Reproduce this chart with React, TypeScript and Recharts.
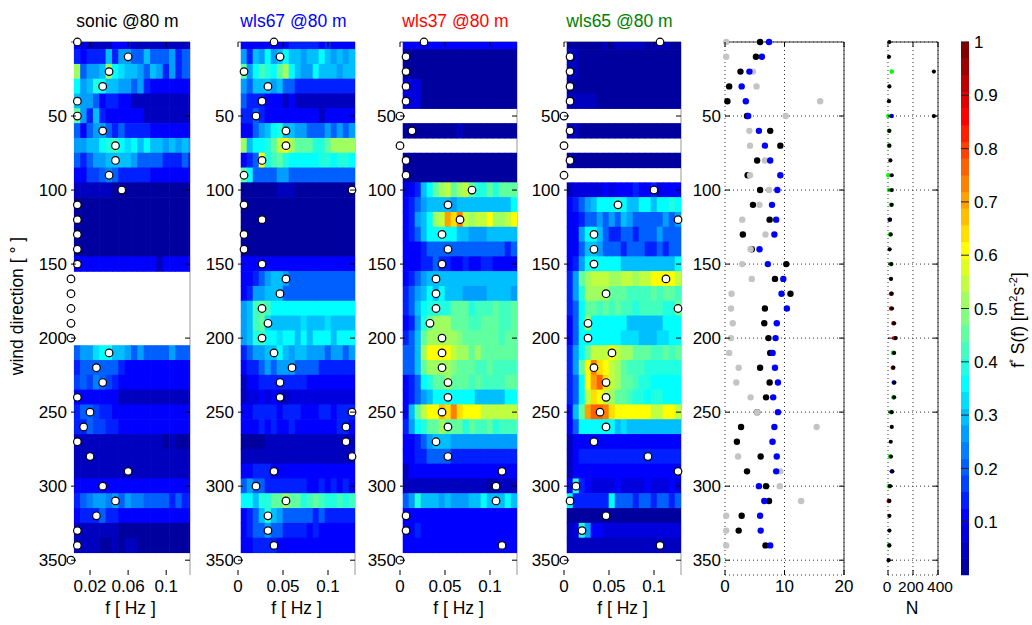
import React from 'react';
import {
  ScatterChart,
  Scatter,
  XAxis,
  YAxis,
  CartesianGrid,
  ReferenceLine
} from 'recharts';

// direction bins (deg) and spectral bin centres (Hz)
const directions = [0, 10, 20, 30, 40, 50, 60, 70, 80, 90, 100, 110, 120, 130, 140, 150, 160, 170,
  180, 190, 200, 210, 220, 230, 240, 250, 260, 270, 280, 290, 300, 310, 320, 330, 340, 350];
const freqBins = [0.0067, 0.0133, 0.02, 0.0267, 0.0333, 0.04, 0.0467, 0.0533, 0.06, 0.0667,
  0.0733, 0.08, 0.0867, 0.0933, 0.1, 0.1067, 0.1133, 0.12, 0.1267];
const BIN_HZ = 1 / 150;
const BIN_DEG = 10;
const dirTicks = [50, 100, 150, 200, 250, 300, 350];

// f*S(f) per direction bin (rows 0..340 deg), null = no data
const sonicSpec: (number[] | null)[] = [
  [0.1, 0.08, 0.05, 0.05, 0.05, 0.05, 0.1, 0.1, 0.1, 0.05, 0.05, 0.05, 0.05, 0.05, 0.05, 0.05, 0.05, 0.05, 0.05],
  [0.15, 0.1, 0.15, 0.15, 0.15, 0.3, 0.15, 0.25, 0.25, 0.2, 0.2, 0.3, 0.2, 0.2, 0.2, 0.25, 0.15, 0.2, 0.2],
  [0.5, 0.2, 0.25, 0.25, 0.3, 0.5, 0.37, 0.33, 0.3, 0.3, 0.25, 0.2, 0.3, 0.25, 0.15, 0.25, 0.15, 0.2, 0.2],
  [0.35, 0.25, 0.3, 0.38, 0.35, 0.3, 0.3, 0.25, 0.25, 0.2, 0.25, 0.15, 0.12, 0.12, 0.12, 0.12, 0.12, 0.12, 0.12],
  [0.3, 0.25, 0.25, 0.2, 0.12, 0.15, 0.15, 0.1, 0.12, 0.05, 0.05, 0.05, 0.05, 0.05, 0.05, 0.05, 0.05, 0.05, 0.05],
  [0.45, 0.25, 0.15, 0.3, 0.15, 0.12, 0.12, 0.1, 0.1, 0.1, 0.1, 0.05, 0.05, 0.05, 0.05, 0.05, 0.05, 0.05, 0.05],
  [0.2, 0.12, 0.2, 0.25, 0.25, 0.2, 0.15, 0.2, 0.15, 0.15, 0.15, 0.15, 0.12, 0.12, 0.12, 0.12, 0.12, 0.12, 0.12],
  [0.25, 0.25, 0.3, 0.3, 0.37, 0.38, 0.42, 0.37, 0.33, 0.35, 0.3, 0.35, 0.3, 0.3, 0.25, 0.3, 0.25, 0.3, 0.25],
  [0.2, 0.15, 0.2, 0.25, 0.28, 0.3, 0.3, 0.3, 0.3, 0.25, 0.2, 0.2, 0.2, 0.2, 0.15, 0.15, 0.15, 0.2, 0.15],
  [0.12, 0.12, 0.17, 0.17, 0.2, 0.22, 0.2, 0.15, 0.15, 0.15, 0.15, 0.15, 0.12, 0.1, 0.12, 0.12, 0.12, 0.12, 0.12],
  [0.06, 0.06, 0.06, 0.06, 0.06, 0.06, 0.02, 0.02, 0.02, 0.02, 0.02, 0.02, 0.02, 0.02, 0.02, 0.02, 0.02, 0.02, 0.02],
  [0.02, 0.02, 0.02, 0.02, 0.02, 0.02, 0.02, 0.02, 0.02, 0.02, 0.02, 0.02, 0.02, 0.02, 0.02, 0.02, 0.02, 0.02, 0.02],
  [0.02, 0.02, 0.02, 0.02, 0.02, 0.02, 0.02, 0.02, 0.02, 0.02, 0.02, 0.02, 0.02, 0.02, 0.02, 0.02, 0.02, 0.02, 0.02],
  [0.02, 0.02, 0.02, 0.02, 0.02, 0.02, 0.02, 0.02, 0.02, 0.02, 0.02, 0.02, 0.02, 0.02, 0.02, 0.02, 0.02, 0.02, 0.02],
  [0.02, 0.02, 0.02, 0.02, 0.02, 0.02, 0.02, 0.02, 0.02, 0.02, 0.02, 0.02, 0.02, 0.02, 0.02, 0.02, 0.02, 0.02, 0.02],
  [0.12, 0.12, 0.1, 0.1, 0.1, 0.1, 0.1, 0.1, 0.1, 0.1, 0.1, 0.1, 0.1, 0.06, 0.1, 0.1, 0.1, 0.1, 0.1],
  null,
  null,
  null,
  null,
  null,
  [0.2, 0.25, 0.28, 0.33, 0.35, 0.35, 0.3, 0.3, 0.25, 0.2, 0.25, 0.2, 0.2, 0.2, 0.2, 0.25, 0.2, 0.2, 0.2],
  [0.15, 0.2, 0.2, 0.2, 0.2, 0.2, 0.2, 0.15, 0.12, 0.12, 0.12, 0.12, 0.12, 0.12, 0.12, 0.12, 0.12, 0.12, 0.12],
  [0.18, 0.2, 0.18, 0.22, 0.2, 0.18, 0.15, 0.12, 0.12, 0.12, 0.12, 0.12, 0.12, 0.12, 0.12, 0.12, 0.12, 0.12, 0.12],
  [0.12, 0.12, 0.12, 0.12, 0.12, 0.12, 0.12, 0.06, 0.06, 0.06, 0.06, 0.06, 0.06, 0.06, 0.06, 0.06, 0.06, 0.06, 0.06],
  [0.15, 0.2, 0.2, 0.18, 0.15, 0.15, 0.12, 0.12, 0.12, 0.12, 0.12, 0.12, 0.12, 0.12, 0.1, 0.1, 0.1, 0.1, 0.1],
  [0.15, 0.15, 0.2, 0.18, 0.18, 0.15, 0.15, 0.12, 0.12, 0.12, 0.12, 0.12, 0.12, 0.12, 0.12, 0.12, 0.12, 0.12, 0.12],
  [0.05, 0.05, 0.05, 0.05, 0.05, 0.05, 0.05, 0.05, 0.05, 0.05, 0.05, 0.05, 0.05, 0.05, 0.02, 0.05, 0.02, 0.02, 0.02],
  [0.05, 0.05, 0.05, 0.05, 0.05, 0.05, 0.05, 0.05, 0.05, 0.05, 0.05, 0.05, 0.05, 0.05, 0.05, 0.05, 0.05, 0.05, 0.05],
  [0.05, 0.05, 0.05, 0.05, 0.05, 0.05, 0.05, 0.05, 0.05, 0.05, 0.05, 0.05, 0.05, 0.05, 0.05, 0.05, 0.05, 0.05, 0.05],
  [0.1, 0.12, 0.12, 0.12, 0.12, 0.12, 0.12, 0.12, 0.12, 0.12, 0.12, 0.12, 0.12, 0.1, 0.1, 0.1, 0.1, 0.1, 0.1],
  [0.15, 0.2, 0.22, 0.25, 0.25, 0.22, 0.25, 0.2, 0.25, 0.22, 0.22, 0.2, 0.2, 0.2, 0.2, 0.15, 0.2, 0.15, 0.15],
  [0.12, 0.15, 0.15, 0.15, 0.2, 0.15, 0.15, 0.12, 0.12, 0.12, 0.12, 0.12, 0.12, 0.1, 0.1, 0.1, 0.1, 0.1, 0.1],
  [0.06, 0.06, 0.06, 0.06, 0.06, 0.06, 0.06, 0.02, 0.02, 0.02, 0.02, 0.02, 0.02, 0.02, 0.02, 0.02, 0.02, 0.02, 0.02],
  [0.06, 0.06, 0.06, 0.06, 0.02, 0.02, 0.06, 0.02, 0.06, 0.06, 0.02, 0.02, 0.02, 0.02, 0.02, 0.02, 0.02, 0.02, 0.02]
];

const wls67Spec: (number[] | null)[] = [
  [0.12, 0.1, 0.12, 0.12, 0.12, 0.12, 0.12, 0.12, 0.15, 0.15, 0.15, 0.15, 0.15, 0.12, 0.15, 0.12, 0.12, 0.12, 0.12],
  [0.25, 0.15, 0.3, 0.25, 0.35, 0.25, 0.3, 0.35, 0.3, 0.3, 0.25, 0.3, 0.3, 0.35, 0.3, 0.25, 0.3, 0.25, 0.3],
  [0.45, 0.25, 0.35, 0.42, 0.4, 0.35, 0.45, 0.5, 0.35, 0.3, 0.28, 0.25, 0.35, 0.3, 0.3, 0.3, 0.25, 0.3, 0.3],
  [0.25, 0.2, 0.3, 0.3, 0.3, 0.25, 0.3, 0.2, 0.2, 0.15, 0.15, 0.15, 0.15, 0.15, 0.15, 0.15, 0.15, 0.15, 0.15],
  [0.2, 0.15, 0.15, 0.15, 0.1, 0.1, 0.1, 0.06, 0.1, 0.06, 0.06, 0.06, 0.06, 0.06, 0.06, 0.06, 0.06, 0.06, 0.06],
  [0.15, 0.15, 0.2, 0.15, 0.12, 0.1, 0.1, 0.1, 0.1, 0.1, 0.1, 0.1, 0.1, 0.06, 0.1, 0.1, 0.1, 0.1, 0.1],
  [0.12, 0.12, 0.2, 0.25, 0.3, 0.35, 0.38, 0.3, 0.3, 0.25, 0.25, 0.2, 0.2, 0.2, 0.25, 0.2, 0.25, 0.2, 0.25],
  [0.5, 0.3, 0.35, 0.35, 0.4, 0.45, 0.55, 0.62, 0.5, 0.45, 0.45, 0.45, 0.4, 0.4, 0.45, 0.5, 0.5, 0.5, 0.5],
  [0.12, 0.15, 0.2, 0.6, 0.4, 0.42, 0.45, 0.4, 0.37, 0.37, 0.37, 0.37, 0.37, 0.4, 0.4, 0.37, 0.4, 0.4, 0.37],
  [0.45, 0.35, 0.2, 0.2, 0.2, 0.2, 0.25, 0.25, 0.2, 0.2, 0.2, 0.2, 0.2, 0.2, 0.2, 0.2, 0.2, 0.2, 0.2],
  [0.02, 0.02, 0.02, 0.02, 0.02, 0.02, 0.06, 0.06, 0.06, 0.02, 0.02, 0.02, 0.02, 0.02, 0.02, 0.02, 0.02, 0.02, 0.02],
  [0.02, 0.02, 0.02, 0.02, 0.02, 0.02, 0.02, 0.02, 0.02, 0.02, 0.02, 0.02, 0.02, 0.02, 0.02, 0.02, 0.02, 0.02, 0.02],
  [0.02, 0.02, 0.02, 0.02, 0.02, 0.02, 0.02, 0.02, 0.02, 0.02, 0.02, 0.02, 0.02, 0.02, 0.02, 0.02, 0.02, 0.02, 0.02],
  [0.02, 0.02, 0.02, 0.02, 0.02, 0.02, 0.02, 0.02, 0.02, 0.02, 0.02, 0.02, 0.02, 0.02, 0.02, 0.02, 0.02, 0.02, 0.02],
  [0.02, 0.02, 0.02, 0.02, 0.02, 0.02, 0.02, 0.02, 0.02, 0.02, 0.02, 0.02, 0.02, 0.02, 0.02, 0.02, 0.02, 0.02, 0.02],
  [0.12, 0.1, 0.12, 0.12, 0.12, 0.12, 0.12, 0.1, 0.1, 0.1, 0.1, 0.1, 0.1, 0.1, 0.1, 0.1, 0.1, 0.1, 0.12],
  [0.1, 0.12, 0.15, 0.2, 0.25, 0.3, 0.3, 0.25, 0.2, 0.2, 0.2, 0.2, 0.2, 0.2, 0.2, 0.2, 0.2, 0.2, 0.2],
  [0.12, 0.15, 0.25, 0.25, 0.3, 0.3, 0.3, 0.2, 0.2, 0.2, 0.2, 0.2, 0.2, 0.2, 0.2, 0.2, 0.2, 0.2, 0.2],
  [0.25, 0.3, 0.42, 0.45, 0.42, 0.37, 0.37, 0.37, 0.37, 0.37, 0.37, 0.37, 0.37, 0.37, 0.37, 0.37, 0.37, 0.37, 0.37],
  [0.25, 0.3, 0.42, 0.45, 0.33, 0.3, 0.3, 0.3, 0.3, 0.3, 0.33, 0.3, 0.3, 0.3, 0.33, 0.3, 0.3, 0.3, 0.3],
  [0.25, 0.3, 0.4, 0.42, 0.35, 0.37, 0.33, 0.35, 0.35, 0.3, 0.35, 0.3, 0.35, 0.35, 0.35, 0.3, 0.35, 0.35, 0.35],
  [0.15, 0.2, 0.25, 0.25, 0.3, 0.3, 0.35, 0.3, 0.25, 0.3, 0.3, 0.25, 0.25, 0.25, 0.2, 0.25, 0.25, 0.2, 0.25],
  [0.1, 0.15, 0.15, 0.2, 0.25, 0.2, 0.25, 0.25, 0.25, 0.2, 0.2, 0.2, 0.2, 0.15, 0.15, 0.15, 0.15, 0.15, 0.15],
  [0.06, 0.1, 0.12, 0.15, 0.15, 0.15, 0.15, 0.15, 0.15, 0.15, 0.15, 0.12, 0.12, 0.12, 0.12, 0.12, 0.12, 0.12, 0.12],
  [0.06, 0.08, 0.08, 0.1, 0.08, 0.1, 0.08, 0.06, 0.08, 0.08, 0.08, 0.08, 0.08, 0.08, 0.08, 0.08, 0.08, 0.08, 0.08],
  [0.1, 0.12, 0.15, 0.15, 0.15, 0.15, 0.12, 0.15, 0.15, 0.15, 0.12, 0.12, 0.12, 0.15, 0.15, 0.12, 0.15, 0.15, 0.15],
  [0.1, 0.12, 0.12, 0.15, 0.12, 0.15, 0.12, 0.12, 0.15, 0.12, 0.12, 0.12, 0.12, 0.12, 0.12, 0.12, 0.15, 0.15, 0.12],
  [0.02, 0.02, 0.02, 0.02, 0.05, 0.05, 0.05, 0.05, 0.05, 0.05, 0.05, 0.05, 0.05, 0.05, 0.05, 0.05, 0.05, 0.05, 0.05],
  [0.06, 0.06, 0.06, 0.06, 0.06, 0.06, 0.06, 0.06, 0.06, 0.06, 0.06, 0.06, 0.06, 0.06, 0.06, 0.06, 0.06, 0.06, 0.06],
  [0.12, 0.12, 0.15, 0.15, 0.15, 0.12, 0.12, 0.12, 0.12, 0.12, 0.12, 0.12, 0.12, 0.12, 0.12, 0.12, 0.12, 0.12, 0.12],
  [0.2, 0.25, 0.2, 0.2, 0.15, 0.15, 0.15, 0.15, 0.15, 0.15, 0.15, 0.12, 0.12, 0.15, 0.12, 0.15, 0.12, 0.15, 0.12],
  [0.35, 0.37, 0.3, 0.4, 0.4, 0.45, 0.45, 0.5, 0.45, 0.45, 0.4, 0.42, 0.45, 0.42, 0.4, 0.4, 0.42, 0.4, 0.42],
  [0.12, 0.15, 0.2, 0.3, 0.4, 0.3, 0.25, 0.2, 0.2, 0.2, 0.2, 0.2, 0.15, 0.2, 0.15, 0.15, 0.15, 0.15, 0.15],
  [0.12, 0.15, 0.2, 0.2, 0.25, 0.2, 0.2, 0.15, 0.15, 0.15, 0.15, 0.12, 0.15, 0.12, 0.12, 0.12, 0.12, 0.12, 0.12],
  [0.12, 0.12, 0.15, 0.15, 0.15, 0.15, 0.12, 0.12, 0.12, 0.12, 0.12, 0.12, 0.12, 0.12, 0.12, 0.12, 0.12, 0.12, 0.12]
];

const wls37Spec: (number[] | null)[] = [
  [0.12, 0.12, 0.12, 0.12, 0.12, 0.12, 0.12, 0.12, 0.12, 0.1, 0.12, 0.12, 0.12, 0.12, 0.12, 0.12, 0.12, 0.12, 0.12],
  [0.02, 0.02, 0.02, 0.02, 0.02, 0.02, 0.02, 0.02, 0.02, 0.02, 0.02, 0.02, 0.02, 0.02, 0.02, 0.02, 0.02, 0.02, 0.02],
  [0.02, 0.02, 0.02, 0.02, 0.02, 0.02, 0.02, 0.02, 0.02, 0.02, 0.02, 0.02, 0.02, 0.02, 0.02, 0.02, 0.02, 0.02, 0.02],
  [0.08, 0.08, 0.08, 0.02, 0.02, 0.02, 0.02, 0.02, 0.02, 0.02, 0.02, 0.02, 0.02, 0.02, 0.02, 0.02, 0.02, 0.02, 0.02],
  [0.08, 0.08, 0.08, 0.02, 0.02, 0.02, 0.02, 0.02, 0.02, 0.02, 0.02, 0.02, 0.02, 0.02, 0.02, 0.02, 0.02, 0.02, 0.02],
  null,
  [0.02, 0.02, 0.02, 0.02, 0.02, 0.02, 0.02, 0.02, 0.02, 0.05, 0.02, 0.02, 0.02, 0.02, 0.02, 0.02, 0.02, 0.02, 0.02],
  null,
  [0.02, 0.02, 0.02, 0.02, 0.02, 0.02, 0.02, 0.02, 0.02, 0.02, 0.02, 0.02, 0.02, 0.02, 0.02, 0.02, 0.02, 0.02, 0.02],
  [0.02, 0.02, 0.02, 0.02, 0.02, 0.02, 0.02, 0.02, 0.02, 0.02, 0.02, 0.02, 0.02, 0.02, 0.02, 0.02, 0.02, 0.02, 0.02],
  [0.08, 0.1, 0.15, 0.3, 0.35, 0.45, 0.5, 0.55, 0.45, 0.5, 0.55, 0.45, 0.4, 0.4, 0.45, 0.4, 0.45, 0.45, 0.45],
  [0.1, 0.15, 0.2, 0.25, 0.3, 0.3, 0.3, 0.3, 0.28, 0.3, 0.3, 0.3, 0.3, 0.3, 0.3, 0.3, 0.3, 0.3, 0.35],
  [0.1, 0.15, 0.25, 0.3, 0.35, 0.5, 0.55, 0.7, 0.65, 0.72, 0.55, 0.5, 0.55, 0.55, 0.6, 0.5, 0.5, 0.55, 0.6],
  [0.12, 0.15, 0.2, 0.3, 0.35, 0.37, 0.4, 0.35, 0.35, 0.3, 0.3, 0.28, 0.28, 0.28, 0.3, 0.3, 0.3, 0.3, 0.3],
  [0.1, 0.1, 0.12, 0.15, 0.2, 0.2, 0.2, 0.2, 0.2, 0.2, 0.2, 0.2, 0.2, 0.2, 0.2, 0.2, 0.2, 0.15, 0.2],
  [0.1, 0.1, 0.12, 0.15, 0.15, 0.2, 0.15, 0.15, 0.12, 0.12, 0.15, 0.12, 0.12, 0.15, 0.15, 0.12, 0.12, 0.1, 0.1],
  [0.1, 0.15, 0.2, 0.25, 0.3, 0.3, 0.3, 0.3, 0.3, 0.3, 0.3, 0.3, 0.3, 0.3, 0.3, 0.3, 0.3, 0.3, 0.3],
  [0.15, 0.2, 0.25, 0.3, 0.35, 0.3, 0.35, 0.3, 0.3, 0.3, 0.28, 0.28, 0.28, 0.28, 0.3, 0.3, 0.3, 0.3, 0.28],
  [0.15, 0.2, 0.3, 0.35, 0.4, 0.4, 0.4, 0.4, 0.45, 0.45, 0.45, 0.4, 0.42, 0.42, 0.42, 0.45, 0.42, 0.42, 0.45],
  [0.12, 0.15, 0.25, 0.4, 0.45, 0.5, 0.5, 0.5, 0.45, 0.45, 0.45, 0.42, 0.42, 0.45, 0.45, 0.45, 0.42, 0.42, 0.45],
  [0.15, 0.2, 0.3, 0.45, 0.5, 0.5, 0.52, 0.5, 0.5, 0.48, 0.45, 0.45, 0.45, 0.45, 0.45, 0.45, 0.42, 0.45, 0.45],
  [0.2, 0.2, 0.3, 0.5, 0.6, 0.62, 0.62, 0.6, 0.55, 0.5, 0.5, 0.45, 0.5, 0.45, 0.45, 0.45, 0.45, 0.45, 0.45],
  [0.2, 0.2, 0.3, 0.45, 0.5, 0.52, 0.52, 0.5, 0.48, 0.45, 0.45, 0.45, 0.42, 0.42, 0.45, 0.42, 0.42, 0.42, 0.42],
  [0.12, 0.15, 0.2, 0.35, 0.4, 0.45, 0.45, 0.5, 0.45, 0.45, 0.45, 0.42, 0.45, 0.42, 0.42, 0.42, 0.42, 0.45, 0.45],
  [0.12, 0.15, 0.2, 0.25, 0.3, 0.35, 0.37, 0.37, 0.35, 0.37, 0.35, 0.35, 0.3, 0.3, 0.3, 0.3, 0.3, 0.35, 0.35],
  [0.12, 0.3, 0.45, 0.55, 0.6, 0.6, 0.68, 0.65, 0.72, 0.65, 0.62, 0.6, 0.6, 0.55, 0.55, 0.55, 0.55, 0.55, 0.55],
  [0.15, 0.25, 0.35, 0.4, 0.45, 0.45, 0.5, 0.45, 0.45, 0.45, 0.4, 0.45, 0.42, 0.42, 0.45, 0.4, 0.42, 0.42, 0.42],
  [0.1, 0.12, 0.15, 0.2, 0.25, 0.3, 0.3, 0.3, 0.25, 0.25, 0.25, 0.25, 0.25, 0.25, 0.25, 0.25, 0.25, 0.25, 0.25],
  [0.1, 0.12, 0.15, 0.15, 0.2, 0.2, 0.2, 0.2, 0.15, 0.15, 0.15, 0.15, 0.15, 0.15, 0.15, 0.15, 0.15, 0.15, 0.15],
  [0.06, 0.1, 0.1, 0.1, 0.1, 0.1, 0.1, 0.1, 0.12, 0.1, 0.1, 0.1, 0.1, 0.1, 0.1, 0.1, 0.1, 0.1, 0.1],
  [0.05, 0.05, 0.06, 0.05, 0.05, 0.05, 0.05, 0.05, 0.05, 0.05, 0.05, 0.05, 0.05, 0.05, 0.02, 0.05, 0.05, 0.05, 0.05],
  [0.2, 0.25, 0.4, 0.3, 0.3, 0.3, 0.28, 0.3, 0.25, 0.28, 0.25, 0.3, 0.3, 0.35, 0.3, 0.3, 0.3, 0.35, 0.3],
  [0.1, 0.12, 0.12, 0.12, 0.12, 0.12, 0.12, 0.12, 0.12, 0.12, 0.12, 0.12, 0.12, 0.12, 0.12, 0.12, 0.12, 0.12, 0.12],
  [0.12, 0.12, 0.15, 0.12, 0.1, 0.1, 0.1, 0.1, 0.1, 0.1, 0.1, 0.1, 0.1, 0.1, 0.1, 0.1, 0.1, 0.1, 0.1],
  [0.12, 0.12, 0.12, 0.12, 0.12, 0.12, 0.12, 0.12, 0.12, 0.12, 0.12, 0.12, 0.12, 0.12, 0.12, 0.12, 0.12, 0.12, 0.12]
];

const wls65Spec: (number[] | null)[] = [
  [0.02, 0.02, 0.02, 0.02, 0.02, 0.02, 0.06, 0.02, 0.06, 0.06, 0.06, 0.06, 0.06, 0.02, 0.06, 0.06, 0.06, 0.02, 0.02],
  [0.05, 0.05, 0.02, 0.02, 0.02, 0.02, 0.02, 0.02, 0.02, 0.02, 0.02, 0.02, 0.02, 0.02, 0.02, 0.02, 0.02, 0.02, 0.02],
  [0.05, 0.05, 0.02, 0.02, 0.02, 0.02, 0.02, 0.02, 0.02, 0.02, 0.02, 0.02, 0.02, 0.02, 0.02, 0.02, 0.02, 0.02, 0.02],
  [0.02, 0.02, 0.02, 0.02, 0.02, 0.02, 0.02, 0.02, 0.02, 0.02, 0.02, 0.02, 0.02, 0.02, 0.02, 0.02, 0.02, 0.02, 0.02],
  [0.06, 0.06, 0.06, 0.06, 0.06, 0.02, 0.02, 0.02, 0.02, 0.02, 0.02, 0.02, 0.02, 0.02, 0.02, 0.02, 0.02, 0.02, 0.02],
  null,
  [0.05, 0.05, 0.02, 0.02, 0.02, 0.02, 0.02, 0.02, 0.02, 0.02, 0.02, 0.02, 0.02, 0.02, 0.02, 0.02, 0.02, 0.02, 0.02],
  null,
  [0.02, 0.02, 0.02, 0.02, 0.02, 0.02, 0.02, 0.02, 0.02, 0.02, 0.02, 0.02, 0.02, 0.02, 0.02, 0.02, 0.02, 0.02, 0.02],
  null,
  [0.05, 0.08, 0.08, 0.08, 0.08, 0.08, 0.1, 0.08, 0.12, 0.12, 0.12, 0.15, 0.12, 0.12, 0.15, 0.08, 0.12, 0.12, 0.12],
  [0.1, 0.15, 0.2, 0.25, 0.3, 0.35, 0.35, 0.35, 0.4, 0.35, 0.3, 0.3, 0.35, 0.35, 0.3, 0.35, 0.37, 0.38, 0.35],
  [0.12, 0.12, 0.15, 0.2, 0.2, 0.25, 0.2, 0.25, 0.2, 0.3, 0.25, 0.2, 0.2, 0.2, 0.2, 0.2, 0.25, 0.2, 0.25],
  [0.1, 0.12, 0.25, 0.35, 0.35, 0.3, 0.2, 0.15, 0.15, 0.2, 0.2, 0.15, 0.2, 0.2, 0.2, 0.25, 0.2, 0.2, 0.2],
  [0.1, 0.12, 0.2, 0.3, 0.3, 0.25, 0.2, 0.2, 0.2, 0.15, 0.2, 0.2, 0.2, 0.15, 0.15, 0.2, 0.15, 0.2, 0.2],
  [0.12, 0.15, 0.25, 0.35, 0.35, 0.35, 0.35, 0.37, 0.35, 0.3, 0.3, 0.3, 0.3, 0.3, 0.3, 0.3, 0.3, 0.3, 0.35],
  [0.15, 0.25, 0.45, 0.5, 0.55, 0.55, 0.55, 0.52, 0.52, 0.55, 0.55, 0.52, 0.55, 0.55, 0.6, 0.62, 0.62, 0.6, 0.55],
  [0.15, 0.25, 0.4, 0.5, 0.5, 0.52, 0.5, 0.45, 0.45, 0.45, 0.42, 0.42, 0.42, 0.42, 0.45, 0.42, 0.45, 0.45, 0.42],
  [0.15, 0.2, 0.35, 0.45, 0.45, 0.42, 0.45, 0.42, 0.45, 0.42, 0.42, 0.4, 0.42, 0.42, 0.42, 0.42, 0.4, 0.4, 0.45],
  [0.12, 0.2, 0.35, 0.5, 0.37, 0.35, 0.35, 0.35, 0.35, 0.35, 0.3, 0.3, 0.3, 0.3, 0.3, 0.3, 0.35, 0.35, 0.35],
  [0.12, 0.2, 0.35, 0.37, 0.37, 0.37, 0.35, 0.37, 0.37, 0.33, 0.33, 0.33, 0.3, 0.3, 0.3, 0.33, 0.33, 0.35, 0.35],
  [0.15, 0.25, 0.37, 0.45, 0.55, 0.55, 0.55, 0.62, 0.55, 0.5, 0.5, 0.45, 0.45, 0.45, 0.42, 0.42, 0.45, 0.42, 0.45],
  [0.15, 0.25, 0.45, 0.62, 0.72, 0.65, 0.6, 0.55, 0.5, 0.45, 0.42, 0.42, 0.42, 0.4, 0.4, 0.4, 0.4, 0.4, 0.4],
  [0.15, 0.2, 0.37, 0.62, 0.7, 0.78, 0.65, 0.55, 0.5, 0.45, 0.45, 0.42, 0.4, 0.4, 0.37, 0.37, 0.37, 0.37, 0.37],
  [0.15, 0.2, 0.37, 0.55, 0.65, 0.62, 0.55, 0.5, 0.45, 0.45, 0.42, 0.4, 0.4, 0.37, 0.4, 0.4, 0.37, 0.37, 0.37],
  [0.12, 0.3, 0.45, 0.7, 0.78, 0.75, 0.72, 0.65, 0.62, 0.62, 0.62, 0.6, 0.62, 0.6, 0.55, 0.55, 0.6, 0.6, 0.55],
  [0.12, 0.2, 0.35, 0.37, 0.37, 0.37, 0.35, 0.35, 0.3, 0.33, 0.3, 0.3, 0.3, 0.3, 0.3, 0.3, 0.3, 0.3, 0.3],
  [0.05, 0.1, 0.12, 0.12, 0.12, 0.12, 0.12, 0.12, 0.12, 0.12, 0.12, 0.12, 0.12, 0.12, 0.12, 0.12, 0.12, 0.1, 0.12],
  [0.06, 0.1, 0.15, 0.15, 0.15, 0.15, 0.15, 0.15, 0.15, 0.15, 0.15, 0.15, 0.15, 0.15, 0.15, 0.15, 0.15, 0.15, 0.15],
  [0.06, 0.1, 0.1, 0.1, 0.1, 0.1, 0.1, 0.1, 0.1, 0.1, 0.1, 0.1, 0.1, 0.1, 0.1, 0.1, 0.1, 0.1, 0.1],
  [0.1, 0.38, 0.15, 0.1, 0.08, 0.08, 0.08, 0.08, 0.1, 0.08, 0.08, 0.08, 0.08, 0.1, 0.08, 0.08, 0.08, 0.1, 0.08],
  [0.35, 0.15, 0.15, 0.15, 0.15, 0.15, 0.15, 0.35, 0.2, 0.2, 0.2, 0.15, 0.2, 0.2, 0.15, 0.2, 0.2, 0.15, 0.2],
  [0.02, 0.02, 0.02, 0.02, 0.02, 0.02, 0.02, 0.02, 0.02, 0.02, 0.02, 0.02, 0.02, 0.02, 0.02, 0.02, 0.02, 0.02, 0.02],
  [0.05, 0.08, 0.4, 0.25, 0.1, 0.1, 0.08, 0.08, 0.08, 0.08, 0.08, 0.08, 0.08, 0.08, 0.08, 0.08, 0.08, 0.08, 0.08],
  [0.06, 0.06, 0.06, 0.06, 0.06, 0.06, 0.06, 0.06, 0.06, 0.06, 0.06, 0.06, 0.06, 0.06, 0.06, 0.06, 0.06, 0.06, 0.06]
];

// spectral peak frequency (Hz) per direction, 0..350 deg
const sonicPeak = [0.0067, 0.06, 0.04, 0.0333, 0.0067, 0.0067, 0.0333, 0.0467, 0.0467, 0.04, 0.0533, 0.0067,
  0.0067, 0.0067, 0.0067, 0.0067, 0, 0, 0, 0, 0, 0.04, 0.0267, 0.0333, 0.0067, 0.02, 0.0133, 0.0067,
  0.02, 0.06, 0.0333, 0.0467, 0.0267, 0.0067, 0.0067, 0];
const wls67Peak = [0.04, 0.0467, 0.0067, 0.0333, 0.0267, 0.02, 0.0533, 0.0533, 0.0267, 0.0067, 0.1267, 0.0067,
  0.0267, 0.0067, 0.0067, 0.0267, 0.0533, 0.0467, 0.0267, 0.0333, 0.0267, 0.04, 0.06, 0.0467, 0.0467,
  0.1267, 0.12, 0.12, 0.1267, 0.04, 0.02, 0.0533, 0.0333, 0.0333, 0.04, 0];
const wls37Peak = [0.0267, 0.0067, 0.0067, 0.0067, 0.0067, 0, 0.0133, 0, 0.0067, 0.0067, 0.08, 0.0533, 0.0667,
  0.0467, 0.0533, 0.0467, 0.04, 0.04, 0.04, 0.0333, 0.0467, 0.0467, 0.0467, 0.0533, 0.0533, 0.0467,
  0.0533, 0.04, 0.0533, 0.1133, 0.1067, 0.1067, 0.0067, 0.0067, 0.1133, 0];
const wls65Peak = [0.1067, 0.0067, 0.0067, 0.0067, 0.0067, 0, 0.0067, 0, 0.0067, 0, 0.1, 0.06, 0.1267, 0.0333,
  0.0333, 0.0333, 0.1133, 0.0467, 0.1267, 0.0267, 0.0267, 0.0533, 0.0333, 0.0467, 0.0467, 0.04, 0.0467,
  0.0333, 0.0933, 0.1267, 0.0133, 0.0067, 0.0467, 0.02, 0.1067, 0];

// middle panel, per direction (0..350 deg)
const blackDots = [5.9, 5.2, 2.6, 0.7, 0.4, 3.7, 7.6, 9.3, 5.4, 3.8, 5.9, 4.7, 7.5, 3.0, 4.5, 10.3, 8.4, 11.0,
  6.7, 6.6, 7.3, 7.6, 5.9, 7.5, 6.9, 5.4, 2.7, 2.0, 6.0, 3.7, 6.9, 7.4, 2.8, 2.3, 6.8, null];
const grayDots = [0.2, 0.2, 4.7, 5.3, 16.0, 10.2, 4.1, 4.2, 6.7, 4.2, 7.4, 5.8, 2.9, 6.8, 4.3, 2.9, 4.5, 1.1,
  1.0, 1.3, 1.0, 0.7, 2.3, 1.9, 4.3, 5.4, 15.4, 7.9, 2.2, 9.3, 9.2, 12.8, 0.2, 0.2, 0.2, null];
const blueDots = [7.4, 6.2, 4.1, 2.8, 3.5, 3.9, 5.7, 6.7, 7.6, 9.3, 8.8, 7.9, 8.6, 8.3, 5.8, 7.2, 9.8, 9.5,
  10.4, 8.7, 8.5, 8.0, 8.4, 8.9, 8.1, 8.9, 8.3, 8.0, 8.7, 8.6, 5.7, 6.6, 5.9, 6.0, 7.6, null];

// sample counts N per direction
const nBlack = [11, 8, 367, 11, 8, 367, 11, 11, 19, 30, 30, 30, 16, 22, 13, 27, 24, 30, 32, 49, 62, 49, 43,
  51, 49, 30, 30, 22, 24, 35, 16, 11, 11, 11, 11, 5];
const nGreen = [null, null, 30, null, null, 3, 8, 8, null, 3, 8, 24, null, 16, null, 22, null, null, null,
  null, null, 40, null, null, 43, 22, null, null, 16, null, 8, null, null, null, 8, null];
const nRed = [null, null, null, null, null, null, null, null, null, null, null, null, null, null, null, null,
  null, 24, 24, 43, 49, null, 38, null, null, null, null, null, null, null, null, 5, null, null, null, null];
const nBlue = [null, null, null, null, null, 30, null, null, null, null, null, null, 13, null, null, null, null,
  null, null, null, null, null, null, 46, null, null, null, null, null, 30, null, null, null, null, null, null];

const cbarTicks = [0.1, 0.2, 0.3, 0.4, 0.5, 0.6, 0.7, 0.8, 0.9, 1];

const FONT = '"Liberation Sans", Arial, Helvetica, sans-serif';
const TOP = 42;
const PLOT_H = 533;
const AXIS_H = 50;
const YW = 45;
const RP = 12;

// MATLAB-style jet(32)
const JET_N = 32;
const jet: string[] = (() => {
  const n = Math.ceil(JET_N / 4);
  const u: number[] = [];
  for (let k = 1; k <= n; k++) u.push(k / n);
  for (let k = 1; k < n; k++) u.push(1);
  for (let k = n; k >= 1; k--) u.push(k / n);
  const off = Math.ceil(n / 2) - (JET_N % 4 === 1 ? 1 : 0);
  const rgb = Array.from({ length: JET_N }, () => [0, 0, 0]);
  u.forEach((val, k) => {
    const g = off + k + 1;
    const r = g + n;
    const b = g - n;
    if (r >= 1 && r <= JET_N) rgb[r - 1][0] = val;
    if (g >= 1 && g <= JET_N) rgb[g - 1][1] = val;
    if (b >= 1 && b <= JET_N) rgb[b - 1][2] = val;
  });
  return rgb.map((c) => `rgb(${c.map((x) => Math.round(x * 255)).join(',')})`);
})();

const colourOf = (v: number) => jet[Math.min(JET_N - 1, Math.max(0, Math.floor(v * JET_N)))];

const toCells = (grid: (number[] | null)[]) => {
  const out: { f: number; d: number; v: number }[] = [];
  grid.forEach((row, i) => {
    if (!row) return;
    row.forEach((v, j) => out.push({ f: freqBins[j], d: directions[i], v }));
  });
  return out;
};

const toPoints = (vals: (number | null)[]) =>
  vals
    .map((x, i) => (x == null ? null : { x, d: directions[i] }))
    .filter((p): p is { x: number; d: number } => p !== null);

const BottomTick = (props: any) => {
  const { x, y, payload, fontSize = 17, shift = {} } = props;
  const dx = shift[payload.value] || 0;
  return (
    <g>
      <line x1={x} x2={x} y1={y} y2={y - 5} stroke="#000" />
      <line x1={x} x2={x} y1={y - PLOT_H} y2={y - PLOT_H + 5} stroke="#000" />
      <text x={x + dx} y={y + 17} textAnchor="middle" fontSize={fontSize} fontFamily={FONT} fill="#000">
        {String(payload.value)}
      </text>
    </g>
  );
};

const LeftTick = (props: any) => {
  const { x, y, payload, plotW, showLabel = true } = props;
  return (
    <g>
      <line x1={x} x2={x + 5} y1={y} y2={y} stroke="#000" />
      <line x1={x + plotW} x2={x + plotW - 5} y1={y} y2={y} stroke="#000" />
      {showLabel && (
        <text x={x - 4} y={y} dy="0.36em" textAnchor="end" fontSize={17} fontFamily={FONT} fill="#000">
          {String(payload.value)}
        </text>
      )}
    </g>
  );
};

const ring = (p: any) => (
  <circle cx={p.cx} cy={p.cy} r={3.8} fill="#fff" stroke="#000" strokeWidth={1.2} />
);

const dot = (fill: string, r: number) => (p: any) => <circle cx={p.cx} cy={p.cy} r={r} fill={fill} />;

interface HeatProps {
  left: number;
  width: number;
  xMax: number;
  xTicks: number[];
  grid: (number[] | null)[];
  peaks: number[];
}

const HeatPanel: React.FC<HeatProps> = ({ left, width, xMax, xTicks, grid, peaks }) => {
  const cells = toCells(grid);
  const pk = peaks.map((f, i) => ({ f, d: directions[i] }));
  const cw = (BIN_HZ / xMax) * width + 0.6;
  const ch = (BIN_DEG / 360) * PLOT_H + 0.6;
  const cellShape = (p: any) => (
    <rect x={p.cx - cw / 2} y={p.cy - ch / 2} width={cw} height={ch} fill={colourOf(p.payload.v)} />
  );
  return (
    <div style={{ position: 'absolute', left: left - YW, top: 0 }}>
      <ScatterChart width={YW + width + RP} height={625} margin={{ top: TOP, right: RP, bottom: 0, left: 0 }}>
        <XAxis xAxisId="p" type="number" dataKey="f" domain={[0, xMax]} hide />
        <YAxis yAxisId="p" type="number" dataKey="d" domain={[0, 360]} reversed hide />
        <Scatter xAxisId="c" yAxisId="c" data={cells} shape={cellShape} isAnimationActive={false} />
        <ReferenceLine xAxisId="c" yAxisId="c" y={0} stroke="#555" />
        <ReferenceLine xAxisId="c" yAxisId="c" x={xMax} stroke="#999" />
        <XAxis
          xAxisId="c"
          type="number"
          dataKey="f"
          domain={[0, xMax]}
          allowDataOverflow
          ticks={xTicks}
          interval={0}
          height={AXIS_H}
          tickSize={0}
          tickMargin={0}
          axisLine={false}
          tickLine={false}
          tick={(p: any) => <BottomTick {...p} />}
        />
        <YAxis
          yAxisId="c"
          type="number"
          dataKey="d"
          domain={[0, 360]}
          reversed
          allowDataOverflow
          ticks={dirTicks}
          interval={0}
          width={YW}
          tickSize={0}
          tickMargin={0}
          axisLine={false}
          tickLine={false}
          tick={(p: any) => <LeftTick {...p} plotW={width} />}
        />
        <Scatter xAxisId="p" yAxisId="p" data={pk} shape={ring} isAnimationActive={false} />
      </ScatterChart>
    </div>
  );
};

interface DotPanelProps {
  left: number;
  width: number;
  xMax: number;
  xTicks: number[];
  yLabels: boolean;
  tickFont?: number;
  tickShift?: Record<number, number>;
  series: { data: { x: number; d: number }[]; fill: string; r: number }[];
}

const DotPanel: React.FC<DotPanelProps> = ({ left, width, xMax, xTicks, yLabels, tickFont, tickShift, series }) => (
  <div style={{ position: 'absolute', left: left - YW, top: 0 }}>
    <ScatterChart width={YW + width + RP + 10} height={625} margin={{ top: TOP, right: RP + 10, bottom: 0, left: 0 }}>
      <CartesianGrid stroke="#333" strokeDasharray="1 3" />
      <XAxis
        type="number"
        dataKey="x"
        domain={[0, xMax]}
        ticks={xTicks}
        interval={0}
        height={AXIS_H}
        tickSize={0}
        tickMargin={0}
        axisLine={false}
        tickLine={false}
        tick={(p: any) => <BottomTick {...p} fontSize={tickFont} shift={tickShift} />}
      />
      <YAxis
        type="number"
        dataKey="d"
        domain={[0, 360]}
        reversed
        ticks={dirTicks}
        interval={0}
        width={YW}
        tickSize={0}
        tickMargin={0}
        axisLine={false}
        tickLine={false}
        tick={(p: any) => <LeftTick {...p} plotW={width} showLabel={yLabels} />}
      />
      <ReferenceLine y={0} stroke="#333" />
      <ReferenceLine x={xMax} stroke="#333" />
      {series.map((s, i) => (
        <Scatter key={i} data={s.data} shape={dot(s.fill, s.r)} isAnimationActive={false} />
      ))}
    </ScatterChart>
  </div>
);

const CBarTick = (props: any) => {
  const { x, y, payload, barW } = props;
  return (
    <g>
      <line x1={x - barW} x2={x} y1={y} y2={y} stroke="#222" />
      <text x={x + 5} y={y} dy="0.36em" textAnchor="start" fontSize={17} fontFamily={FONT} fill="#000">
        {String(payload.value)}
      </text>
    </g>
  );
};

// one entry per colour level, placed at the level's mid value
const levels = jet.map((c, i) => ({ x: 0.5, y: (i + 0.5) / JET_N, c }));

const ColourBar: React.FC<{ left: number; width: number }> = ({ left, width }) => {
  const lh = PLOT_H / JET_N + 0.5;
  const levelShape = (p: any) => (
    <rect x={p.cx - width / 2} y={p.cy - lh / 2} width={width} height={lh} fill={p.payload.c} />
  );
  return (
    <div style={{ position: 'absolute', left, top: 0 }}>
      <ScatterChart width={width + 45} height={625} margin={{ top: TOP, right: 0, bottom: AXIS_H, left: 0 }}>
        <XAxis type="number" dataKey="x" domain={[0, 1]} hide />
        <Scatter data={levels} shape={levelShape} isAnimationActive={false} />
        <YAxis
          type="number"
          dataKey="y"
          orientation="right"
          domain={[0, 1]}
          ticks={cbarTicks}
          interval={0}
          width={45}
          tickSize={0}
          tickMargin={0}
          axisLine={false}
          tickLine={false}
          tick={(p: any) => <CBarTick {...p} barW={width} />}
        />
      </ScatterChart>
    </div>
  );
};

const textStyle: React.CSSProperties = {
  position: 'absolute',
  fontFamily: FONT,
  fontSize: 17.5,
  lineHeight: 1,
  whiteSpace: 'nowrap',
  color: '#000'
};

const panels = [
  { title: 'sonic @80 m', color: '#000000', left: 71, width: 119, xMax: 0.125, xTicks: [0.02, 0.06, 0.1], grid: sonicSpec, peaks: sonicPeak },
  { title: 'wls67 @80 m', color: '#0000ff', left: 238, width: 117, xMax: 0.13, xTicks: [0, 0.05, 0.1], grid: wls67Spec, peaks: wls67Peak },
  { title: 'wls37 @80 m', color: '#ff0000', left: 400, width: 117, xMax: 0.13, xTicks: [0, 0.05, 0.1], grid: wls37Spec, peaks: wls37Peak },
  { title: 'wls65 @80 m', color: '#008000', left: 564, width: 117, xMax: 0.13, xTicks: [0, 0.05, 0.1], grid: wls65Spec, peaks: wls65Peak }
];

export default function App() {
  return (
    <div style={{ position: 'relative', width: 1032, height: 625, background: '#fff', fontFamily: FONT }}>
      <style>{'body{margin:0}'}</style>
      {panels.map((p) => (
        <React.Fragment key={p.title}>
          <HeatPanel left={p.left} width={p.width} xMax={p.xMax} xTicks={p.xTicks} grid={p.grid} peaks={p.peaks} />
          <div style={{ ...textStyle, left: p.left + p.width / 2 - 3, top: 13, color: p.color, transform: 'translateX(-50%)' }}>
            {p.title}
          </div>
          <div style={{ ...textStyle, left: p.left + p.width / 2, top: 600, transform: 'translateX(-50%)' }}>f [ Hz ]</div>
        </React.Fragment>
      ))}

      <DotPanel
        left={725}
        width={119}
        xMax={20}
        xTicks={[0, 10, 20]}
        yLabels
        series={[
          { data: toPoints(blackDots), fill: '#000000', r: 3.2 },
          { data: toPoints(grayDots), fill: '#c4c4c4', r: 3.2 },
          { data: toPoints(blueDots), fill: '#0000ff', r: 3.2 }
        ]}
      />
      <DotPanel
        left={888}
        width={50}
        xMax={400}
        xTicks={[0, 200, 400]}
        yLabels={false}
        tickFont={15.5}
        tickShift={{ 0: -1, 200: -2, 400: 2 }}
        series={[
          { data: toPoints(nGreen), fill: '#00ff00', r: 2.3 },
          { data: toPoints(nRed), fill: '#ff0000', r: 2.2 },
          { data: toPoints(nBlue), fill: '#0000ff', r: 2.2 },
          { data: toPoints(nBlack), fill: '#000000', r: 2.1 }
        ]}
      />
      <div style={{ ...textStyle, left: 912, top: 600, transform: 'translateX(-50%)' }}>N</div>

      <ColourBar left={961} width={8} />

      <div style={{ ...textStyle, left: 18, top: 306, transform: 'translate(-50%, -50%) rotate(-90deg)' }}>
        wind direction [ ° ]
      </div>
      <div style={{ ...textStyle, left: 1018, top: 320, transform: 'translate(-50%, -50%) rotate(-90deg)' }}>
        f<sup style={{ fontSize: 10 }}>*</sup> S(f) [m<sup style={{ fontSize: 11 }}>2</sup>s<sup style={{ fontSize: 11 }}>-2</sup>]
      </div>
    </div>
  );
}
